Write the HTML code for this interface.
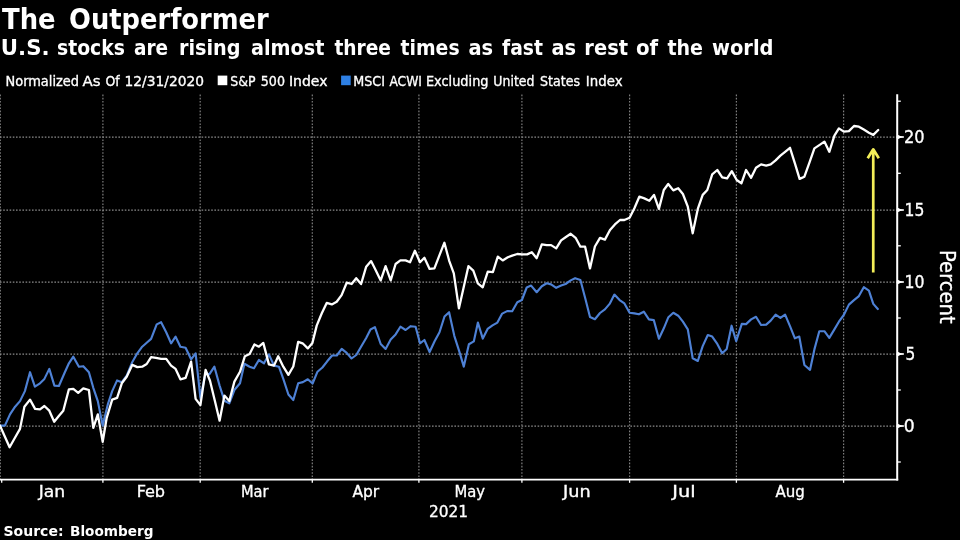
<!DOCTYPE html>
<html lang="en">
<head>
<meta charset="utf-8">
<title>The Outperformer</title>
<style>
html,body{margin:0;padding:0;background:#000;}
body{width:960px;height:540px;overflow:hidden;}
svg{display:block;}
text{font-family:"DejaVu Sans","Liberation Sans",sans-serif;fill:#fff;}
.b{font-weight:bold;}
.c{font-family:"DejaVu Sans Condensed","DejaVu Sans","Liberation Sans",sans-serif;stroke:#fff;stroke-width:0.3px;}
.g{stroke:#8a8a8a;stroke-width:1.25;stroke-dasharray:1.6 1.6;fill:none;}
.gv{stroke:#7e7e7e;stroke-width:1.2;stroke-dasharray:1.6 1.6;fill:none;}
</style>
</head>
<body>
<svg width="960" height="540" viewBox="0 0 960 540">
<rect x="0" y="0" width="960" height="540" fill="#000"/>

<line class="gv" x1="0.3" y1="94.6" x2="0.3" y2="479"/>
<line class="gv" x1="102.9" y1="94.6" x2="102.9" y2="479"/>
<line class="gv" x1="200.2" y1="94.6" x2="200.2" y2="479"/>
<line class="gv" x1="312.3" y1="94.6" x2="312.3" y2="479"/>
<line class="gv" x1="418.9" y1="94.6" x2="418.9" y2="479"/>
<line class="gv" x1="521.9" y1="94.6" x2="521.9" y2="479"/>
<line class="gv" x1="629.6" y1="94.6" x2="629.6" y2="479"/>
<line class="gv" x1="736.4" y1="94.6" x2="736.4" y2="479"/>
<line class="gv" x1="843.6" y1="94.6" x2="843.6" y2="479"/>
<line class="g" x1="0" y1="137.0" x2="897" y2="137.0"/>
<line class="g" x1="0" y1="210.0" x2="897" y2="210.0"/>
<line class="g" x1="0" y1="282.0" x2="897" y2="282.0"/>
<line class="g" x1="0" y1="354.0" x2="897" y2="354.0"/>
<line class="g" x1="0" y1="426.0" x2="897" y2="426.0"/>
<line x1="0" y1="479.7" x2="898.2" y2="479.7" stroke="#fff" stroke-width="1.7"/>
<line x1="897.2" y1="94.3" x2="897.2" y2="480.5" stroke="#fff" stroke-width="2"/>
<line x1="1.7" y1="480" x2="1.7" y2="482.8" stroke="#fff" stroke-width="1.3"/>
<line x1="102.9" y1="480" x2="102.9" y2="482.8" stroke="#fff" stroke-width="1.3"/>
<line x1="200.2" y1="480" x2="200.2" y2="482.8" stroke="#fff" stroke-width="1.3"/>
<line x1="312.3" y1="480" x2="312.3" y2="482.8" stroke="#fff" stroke-width="1.3"/>
<line x1="418.9" y1="480" x2="418.9" y2="482.8" stroke="#fff" stroke-width="1.3"/>
<line x1="521.9" y1="480" x2="521.9" y2="482.8" stroke="#fff" stroke-width="1.3"/>
<line x1="629.6" y1="480" x2="629.6" y2="482.8" stroke="#fff" stroke-width="1.3"/>
<line x1="736.4" y1="480" x2="736.4" y2="482.8" stroke="#fff" stroke-width="1.3"/>
<line x1="843.6" y1="480" x2="843.6" y2="482.8" stroke="#fff" stroke-width="1.3"/>
<path d="M897.8,134.7 L900.2,135.9 L903.9,136.3 L903.9,137.7 L900.2,138.1 L897.8,139.3 Z" fill="#fff"/>
<path d="M897.8,207.7 L900.2,208.9 L903.9,209.3 L903.9,210.7 L900.2,211.1 L897.8,212.3 Z" fill="#fff"/>
<path d="M897.8,279.7 L900.2,280.9 L903.9,281.3 L903.9,282.7 L900.2,283.1 L897.8,284.3 Z" fill="#fff"/>
<path d="M897.8,351.7 L900.2,352.9 L903.9,353.3 L903.9,354.7 L900.2,355.1 L897.8,356.3 Z" fill="#fff"/>
<path d="M897.8,423.7 L900.2,424.9 L903.9,425.3 L903.9,426.7 L900.2,427.1 L897.8,428.3 Z" fill="#fff"/>
<line x1="897" y1="101.2" x2="900.8" y2="101.2" stroke="#fff" stroke-width="1.3"/>
<line x1="897" y1="173.3" x2="900.8" y2="173.3" stroke="#fff" stroke-width="1.3"/>
<line x1="897" y1="245.8" x2="900.8" y2="245.8" stroke="#fff" stroke-width="1.3"/>
<line x1="897" y1="318.0" x2="900.8" y2="318.0" stroke="#fff" stroke-width="1.3"/>
<line x1="897" y1="390.0" x2="900.8" y2="390.0" stroke="#fff" stroke-width="1.3"/>
<line x1="897" y1="462.0" x2="900.8" y2="462.0" stroke="#fff" stroke-width="1.3"/>
<path d="M0.0,425.6 L4.9,425.6 L10.0,414.4 L15.1,406.7 L20.0,401.1 L24.9,391.1 L30.0,372.2 L34.9,386.7 L40.0,383.3 L44.4,378.9 L49.3,368.9 L54.4,385.6 L58.9,386.0 L64.4,373.3 L68.9,363.3 L73.3,356.7 L78.9,366.7 L83.3,366.2 L88.9,372.2 L93.3,387.8 L97.8,401.1 L102.7,425.6 L107.8,404.4 L112.2,391.1 L117.1,380.4 L121.8,382.2 L126.7,375.6 L132.2,362.2 L137.3,353.3 L142.2,346.7 L146.4,343.0 L151.1,338.9 L156.7,324.4 L161.1,322.2 L166.2,332.2 L171.1,343.3 L175.6,336.7 L180.4,346.7 L185.6,347.8 L191.1,359.3 L195.6,353.3 L200.4,397.8 L205.6,373.3 L209.3,374.4 L214.4,366.7 L219.6,385.6 L224.4,400.7 L229.3,403.3 L234.4,390.0 L240.0,383.3 L244.4,363.8 L249.6,366.7 L254.0,368.2 L258.9,360.0 L264.0,363.3 L268.9,354.4 L274.0,365.6 L278.9,366.7 L283.3,378.9 L288.4,394.5 L293.3,400.0 L298.2,383.2 L302.9,382.1 L307.8,379.3 L312.6,383.5 L317.5,371.7 L322.4,367.5 L327.2,361.3 L332.1,355.5 L336.8,355.5 L341.7,348.8 L346.7,352.9 L351.5,358.5 L356.3,355.0 L361.2,346.5 L366.2,338.0 L370.5,329.5 L374.9,327.1 L380.7,344.0 L385.6,348.9 L390.7,339.6 L395.6,334.4 L400.4,326.7 L405.6,330.0 L410.7,326.2 L415.6,326.7 L420.0,343.3 L424.4,340.0 L429.6,352.0 L434.6,341.2 L439.5,332.3 L444.5,316.5 L449.1,312.2 L454.3,335.8 L459.2,351.1 L463.8,366.6 L468.9,344.2 L473.8,341.4 L477.9,322.6 L482.8,338.6 L487.6,328.9 L492.5,325.4 L497.4,322.6 L502.2,313.6 L507.1,311.1 L512.2,311.2 L517.3,302.2 L521.9,300.0 L526.7,287.5 L531.1,285.6 L536.7,292.2 L541.8,286.2 L546.7,283.3 L551.1,284.4 L556.2,287.8 L561.1,285.6 L565.6,284.0 L570.7,280.4 L575.1,278.2 L580.4,280.0 L585.1,297.8 L590.0,317.0 L594.9,319.2 L600.0,313.0 L604.9,309.4 L609.6,303.9 L614.4,294.6 L619.6,300.1 L624.4,303.4 L629.6,312.8 L634.4,313.4 L638.9,314.3 L643.8,311.7 L648.9,319.4 L653.8,320.1 L658.9,338.8 L663.8,328.3 L668.4,317.2 L673.3,312.8 L678.2,315.7 L682.9,321.7 L687.8,329.4 L692.7,358.3 L697.8,361.0 L702.7,346.1 L707.8,335.0 L712.2,336.6 L717.3,343.9 L722.2,353.2 L726.7,349.0 L731.6,325.7 L736.2,341.2 L741.8,323.9 L746.1,324.1 L751.1,319.4 L756.0,316.8 L761.1,325.0 L766.2,324.6 L770.7,320.6 L775.6,314.6 L780.4,317.9 L785.1,314.6 L790.0,326.1 L794.9,338.3 L799.3,336.6 L804.4,365.0 L810.0,369.9 L814.4,349.4 L819.3,331.2 L824.4,331.2 L829.3,337.9 L834.4,329.4 L838.9,321.7 L843.8,315.0 L848.9,304.6 L854.0,300.1 L858.9,296.1 L863.8,287.2 L868.9,290.6 L873.3,303.9 L877.8,309.0" fill="none" stroke="#4e81d5" stroke-width="2.15" stroke-linejoin="round" stroke-linecap="round"/>
<path d="M0.0,425.6 L4.8,436.5 L9.6,447.3 L14.8,438.0 L20.0,428.9 L24.4,406.7 L30.0,399.6 L35.1,408.9 L40.0,409.3 L44.4,406.0 L49.3,410.7 L54.2,421.8 L58.8,416.0 L63.3,410.7 L68.9,389.3 L73.3,388.9 L78.2,392.9 L83.3,388.4 L88.9,390.0 L93.3,427.8 L97.8,414.4 L102.7,441.8 L106.7,417.8 L112.2,399.6 L117.1,397.8 L121.8,383.3 L126.7,376.7 L132.2,364.9 L137.3,367.1 L142.2,366.7 L146.7,364.0 L151.1,357.1 L156.0,357.8 L161.1,358.9 L166.2,358.9 L171.1,365.6 L175.6,368.9 L180.4,379.3 L185.6,377.8 L191.1,361.6 L195.6,398.9 L200.4,405.1 L205.6,370.0 L210.0,380.7 L214.9,401.1 L219.6,420.7 L224.4,395.6 L229.3,401.1 L234.4,381.6 L240.0,371.8 L244.9,356.2 L249.6,354.0 L254.4,344.4 L258.9,346.7 L263.3,342.9 L268.9,364.4 L274.0,365.6 L278.2,356.2 L283.3,366.7 L288.4,374.8 L293.3,366.5 L298.2,341.8 L302.6,343.3 L307.8,348.4 L312.4,343.0 L316.7,325.6 L321.8,313.3 L326.7,302.9 L331.8,304.4 L336.7,301.8 L341.6,295.1 L346.7,282.7 L351.6,284.0 L356.2,278.2 L361.1,284.0 L366.2,266.7 L371.1,261.1 L375.6,270.0 L380.7,280.4 L385.6,266.2 L390.7,280.4 L395.6,264.0 L400.4,260.4 L405.6,260.4 L410.0,262.2 L414.9,250.7 L420.0,262.2 L424.4,257.8 L429.6,268.9 L434.4,268.4 L439.3,255.6 L444.4,242.7 L449.3,261.1 L453.8,273.3 L458.9,308.4 L463.8,286.7 L468.4,266.2 L473.3,270.7 L477.8,283.3 L482.7,287.3 L487.8,271.6 L492.9,272.2 L497.8,256.7 L502.7,260.4 L507.8,257.3 L512.2,255.6 L517.3,254.0 L522.2,254.4 L527.1,254.4 L531.8,252.2 L536.7,258.2 L541.8,244.4 L546.7,245.1 L551.1,245.1 L556.2,248.4 L561.1,240.4 L565.6,237.3 L570.7,233.8 L575.6,237.8 L580.4,246.7 L585.1,246.7 L590.0,268.4 L594.9,246.5 L600.0,237.8 L604.9,239.6 L610.0,230.0 L614.9,224.4 L620.0,220.0 L624.4,220.0 L629.6,217.8 L634.4,208.2 L639.3,196.7 L644.4,198.4 L649.3,200.7 L654.0,194.9 L658.9,208.9 L663.8,190.0 L668.2,184.0 L673.3,190.4 L678.2,188.2 L682.9,194.0 L687.8,206.7 L692.7,233.3 L697.8,208.9 L702.7,194.9 L707.3,190.0 L712.2,174.4 L717.3,170.0 L722.2,177.3 L727.1,178.4 L731.8,171.1 L736.7,180.0 L741.4,183.3 L746.1,170.0 L751.1,177.8 L756.0,167.8 L761.1,164.4 L766.2,165.6 L770.7,164.4 L775.6,160.4 L780.4,155.6 L785.1,151.8 L790.0,147.8 L794.9,163.3 L799.6,178.9 L804.4,176.7 L809.6,162.2 L814.4,148.4 L819.3,145.1 L824.4,141.6 L829.3,151.8 L834.4,135.6 L838.9,128.4 L843.8,131.6 L848.9,131.1 L854.0,126.0 L858.9,126.7 L863.8,129.6 L868.9,132.7 L873.3,134.9 L878.2,130.0" fill="none" stroke="#fff" stroke-width="2.3" stroke-linejoin="round" stroke-linecap="round"/>
<path d="M873.25,272.6 L873.25,150 M867.7,158.2 L873.25,149.3 L878.8,158.2" fill="none" stroke="#f3ee58" stroke-width="2.7" stroke-linejoin="round" stroke-linecap="butt"/>
<text class="b" y="28.7" font-size="28.5"><tspan x="2.00" textLength="53.58" lengthAdjust="spacingAndGlyphs">The</tspan> <tspan x="68.99" textLength="199.81" lengthAdjust="spacingAndGlyphs">Outperformer</tspan></text>
<text class="b" y="55.4" font-size="21"><tspan x="0.85" textLength="48.76" lengthAdjust="spacingAndGlyphs">U.S.</tspan> <tspan x="56.97" textLength="67.97" lengthAdjust="spacingAndGlyphs">stocks</tspan> <tspan x="133.97" textLength="34.10" lengthAdjust="spacingAndGlyphs">are</tspan> <tspan x="178.96" textLength="61.59" lengthAdjust="spacingAndGlyphs">rising</tspan> <tspan x="250.98" textLength="73.43" lengthAdjust="spacingAndGlyphs">almost</tspan> <tspan x="334.39" textLength="56.62" lengthAdjust="spacingAndGlyphs">three</tspan> <tspan x="400.49" textLength="59.14" lengthAdjust="spacingAndGlyphs">times</tspan> <tspan x="468.44" textLength="24.66" lengthAdjust="spacingAndGlyphs">as</tspan> <tspan x="502.00" textLength="41.00" lengthAdjust="spacingAndGlyphs">fast</tspan> <tspan x="551.44" textLength="24.66" lengthAdjust="spacingAndGlyphs">as</tspan> <tspan x="584.36" textLength="43.64" lengthAdjust="spacingAndGlyphs">rest</tspan> <tspan x="635.96" textLength="22.22" lengthAdjust="spacingAndGlyphs">of</tspan> <tspan x="667.48" textLength="35.55" lengthAdjust="spacingAndGlyphs">the</tspan> <tspan x="711.96" textLength="61.58" lengthAdjust="spacingAndGlyphs">world</tspan></text>
<text class="c" y="85.5" font-size="13.4"><tspan x="5.56" textLength="73.48" lengthAdjust="spacingAndGlyphs">Normalized</tspan> <tspan x="82.45" textLength="18.06" lengthAdjust="spacingAndGlyphs">As</tspan> <tspan x="105.48" textLength="14.20" lengthAdjust="spacingAndGlyphs">Of</tspan> <tspan x="124.55" textLength="79.50" lengthAdjust="spacingAndGlyphs">12/31/2020</tspan></text>
<text class="c" y="85.5" font-size="13.4"><tspan x="230.37" textLength="25.20" lengthAdjust="spacingAndGlyphs">S&amp;P</tspan> <tspan x="260.82" textLength="24.14" lengthAdjust="spacingAndGlyphs">500</tspan> <tspan x="288.95" textLength="38.51" lengthAdjust="spacingAndGlyphs">Index</tspan></text>
<text class="c" y="85.5" font-size="13.4"><tspan x="353.30" textLength="31.71" lengthAdjust="spacingAndGlyphs">MSCI</tspan> <tspan x="389.45" textLength="32.54" lengthAdjust="spacingAndGlyphs">ACWI</tspan> <tspan x="425.97" textLength="62.58" lengthAdjust="spacingAndGlyphs">Excluding</tspan> <tspan x="493.36" textLength="41.08" lengthAdjust="spacingAndGlyphs">United</tspan> <tspan x="539.97" textLength="40.03" lengthAdjust="spacingAndGlyphs">States</tspan> <tspan x="585.86" textLength="36.68" lengthAdjust="spacingAndGlyphs">Index</tspan></text>
<text class="c" y="496.8" font-size="15.7"><tspan x="38.71" textLength="26.47" lengthAdjust="spacingAndGlyphs">Jan</tspan> <tspan x="136.66" textLength="28.44" lengthAdjust="spacingAndGlyphs">Feb</tspan> <tspan x="241.00" textLength="27.57" lengthAdjust="spacingAndGlyphs">Mar</tspan> <tspan x="352.45" textLength="26.81" lengthAdjust="spacingAndGlyphs">Apr</tspan> <tspan x="454.41" textLength="30.62" lengthAdjust="spacingAndGlyphs">May</tspan> <tspan x="563.00" textLength="27.57" lengthAdjust="spacingAndGlyphs">Jun</tspan> <tspan x="672.36" textLength="23.30" lengthAdjust="spacingAndGlyphs">Jul</tspan> <tspan x="775.40" textLength="29.28" lengthAdjust="spacingAndGlyphs">Aug</tspan></text>
<text class="c" y="516.9" font-size="16.1"><tspan x="428.94" textLength="39.11" lengthAdjust="spacingAndGlyphs">2021</tspan></text>
<text class="b" y="535.9" font-size="13.7"><tspan x="3.48" textLength="60.07" lengthAdjust="spacingAndGlyphs">Source:</tspan> <tspan x="70.05" textLength="83.49" lengthAdjust="spacingAndGlyphs">Bloomberg</tspan></text>
<text class="c" y="143.3" font-size="17.3"><tspan x="903.90" textLength="20.62" lengthAdjust="spacingAndGlyphs">20</tspan></text>
<text class="c" y="216.3" font-size="17.3"><tspan x="904.50" textLength="19.85" lengthAdjust="spacingAndGlyphs">15</tspan></text>
<text class="c" y="288.3" font-size="17.3"><tspan x="904.54" textLength="20.00" lengthAdjust="spacingAndGlyphs">10</tspan></text>
<text class="c" y="360.3" font-size="17.3"><tspan x="905.38" textLength="9.78" lengthAdjust="spacingAndGlyphs">5</tspan></text>
<text class="c" y="432.3" font-size="17.3"><tspan x="903.76" textLength="10.93" lengthAdjust="spacingAndGlyphs">0</tspan></text>
<rect x="217.7" y="75.6" width="9.6" height="9.6" fill="#fff"/>
<rect x="341.1" y="75.6" width="9.6" height="9.6" fill="#2e80e4"/>
<text class="c" transform="translate(939.8,250.1) rotate(90)" font-size="20.5" textLength="73.5" lengthAdjust="spacingAndGlyphs">Percent</text>
</svg>
</body>
</html>
